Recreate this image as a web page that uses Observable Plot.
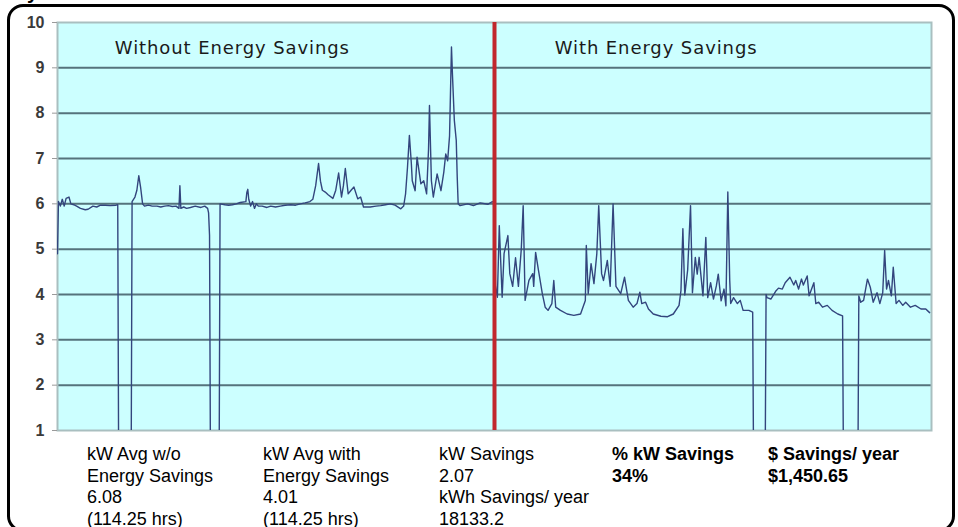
<!DOCTYPE html>
<html>
<head>
<meta charset="utf-8">
<script src="https://cdn.jsdelivr.net/npm/d3@7"></script>
<script src="https://cdn.jsdelivr.net/npm/@observablehq/plot@0.6"></script>
<style>
  html, body { margin: 0; padding: 0; background: #fff; overflow: hidden; width: 958px; height: 527px; }
  #border { position: absolute; left: 7px; top: 4px; width: 941.5px; height: 521.5px; border: 3px solid #000; border-radius: 16px; }
  #chart { position: absolute; left: 0; top: 0; }
  #stats { position: absolute; left: 0; top: 444px; font-family: "Liberation Sans", Arial, sans-serif; font-size: 18px; line-height: 21.5px; color: #000; }
  .col { position: absolute; top: 0; white-space: nowrap; }
  .bold { font-weight: bold; }
  #cut { position: absolute; left: 27px; top: -19px; font: bold 20px "Liberation Sans", Arial, sans-serif; }
</style>
</head>
<body>
<div id="cut">y</div>
<div id="border"></div>
<div id="chart"></div>
<div id="stats"></div>
<script>
// 15-minute readings: 0..456 without savings (114.25 hrs), 457..913 with savings
const withoutSavings = [
  [0,4.9],[1,6.05],[3,5.95],[5,6.1],[7,5.95],[9,6.12],[12,6.15],[14,6.0],[17,5.98],[20,5.95],
  [24,5.9],[29,5.87],[32,5.88],[37,5.95],[41,5.93],[45,5.97],[50,5.97],[55,5.96],[61,5.97],[63,5.98],
  [64,0],[77,0],[78,6.05],[81,6.15],[83,6.3],[85,6.62],[87,6.35],[89,6.0],[91,5.95],[95,5.97],
  [99,5.95],[104,5.95],[108,5.93],[112,5.95],[116,5.96],[120,5.94],[124,5.95],[127,5.9],[128,6.4],[129,5.9],
  [132,5.93],[135,5.9],[139,5.92],[144,5.95],[150,5.92],[154,5.95],[157,5.9],[158,5.8],[159,5.3],[160,0],
  [169,0],[170,6.0],[175,5.98],[179,5.97],[183,5.98],[187,6.0],[191,6.03],[197,6.05],[198,6.25],[199,6.32],
  [200,6.1],[202,5.95],[204,6.05],[206,5.9],[208,6.0],[210,5.95],[214,5.95],[219,5.92],[223,5.95],[228,5.93],
  [233,5.95],[238,5.97],[244,5.98],[249,5.97],[254,6.0],[259,6.02],[264,6.05],[267,6.1],[270,6.4],[273,6.89],
  [275,6.5],[277,6.3],[280,6.26],[283,6.2],[288,6.12],[291,6.3],[294,6.68],[297,6.15],[299,6.4],[301,6.78],
  [304,6.22],[307,6.3],[310,6.37],[314,6.11],[317,6.15],[320,5.93],[327,5.93],[333,5.95],[338,5.96],[343,5.98],
  [348,6.0],[353,5.97],[359,5.89],[362,5.95],[364,6.22],[366,6.8],[368,7.51],[370,6.9],[371,6.51],[374,6.29],
  [376,7.03],[380,6.44],[383,6.51],[386,6.22],[388,7.2],[389,8.17],[391,6.51],[393,6.15],[397,6.66],[401,6.29],
  [404,6.7],[406,7.1],[408,6.95],[410,7.5],[412,9.46],[413,8.87],[415,7.84],[417,7.4],[418,6.6],[419,6.0],
  [421,5.96],[429,6.0],[435,5.96],[442,6.02],[450,5.99],[454,6.04],[456,6.05]
];
const withSavings = [
  [457,5.0],[458,4.2],[460,3.94],[462,5.52],[465,3.94],[467,4.9],[471,5.3],[473,4.46],[476,4.18],[479,4.81],
  [482,4.18],[485,5.0],[487,5.96],[489,3.87],[493,4.31],[497,4.46],[498,4.18],[500,4.93],[503,4.53],[507,4.02],
  [510,3.72],[513,3.65],[517,3.8],[519,4.31],[521,3.72],[526,3.65],[533,3.57],[540,3.54],[547,3.57],[552,3.87],
  [553,5.08],[555,4.02],[558,4.68],[561,4.24],[564,4.9],[566,5.96],[569,4.46],[571,4.31],[575,4.75],[578,4.18],
  [581,6.0],[584,4.18],[589,4.02],[593,4.38],[597,3.87],[602,3.72],[606,3.8],[609,4.05],[611,3.8],[615,3.83],
  [618,3.68],[623,3.57],[631,3.52],[638,3.51],[644,3.57],[650,3.76],[652,4.09],[654,5.45],[656,3.99],[659,4.54],
  [662,5.96],[664,4.04],[667,4.82],[669,4.45],[671,4.82],[675,3.97],[678,5.26],[680,3.93],[683,4.26],[686,3.9],
  [689,4.19],[691,4.45],[694,3.86],[697,4.12],[699,3.75],[701,6.26],[703,4.31],[704,3.8],[707,3.93],[711,3.8],
  [714,3.87],[717,3.65],[723,3.65],[727,3.61],[728,0],[740,0],[741,4.0],[742,3.93],[746,3.9],[751,4.07],
  [754,4.14],[758,4.12],[761,4.26],[766,4.38],[770,4.21],[772,4.31],[775,4.12],[778,4.34],[780,4.21],[784,4.41],
  [786,3.97],[791,4.26],[793,3.8],[796,3.83],[800,3.72],[805,3.76],[810,3.65],[816,3.57],[821,3.53],[822,0],
  [837,0],[838,3.97],[840,3.83],[843,3.87],[847,4.34],[850,4.16],[853,3.83],[857,4.04],[860,3.8],[863,4.04],
  [865,4.97],[867,4.12],[869,4.31],[872,3.97],[874,4.6],[877,3.8],[880,3.87],[884,3.76],[887,3.83],[892,3.72],
  [897,3.76],[903,3.68],[908,3.68],[912,3.6]
];
const yTicks = [1, 2, 3, 4, 5, 6, 7, 8, 9, 10];
const gridValues = [2, 3, 4, 5, 6, 7, 8, 9];
const dividerReading = [457];
const zoneNames = ["Without Energy Savings", "With Energy Savings"];
const zoneStarts = [60, 520];

const statCol1 = ["kW Avg w/o", "Energy Savings", "6.08", "(114.25 hrs)"];
const statCol2 = ["kW Avg with", "Energy Savings", "4.01", "(114.25 hrs)"];
const statCol3 = ["kW Savings", "2.07", "kWh Savings/ year", "18133.2"];
const statCol4 = ["% kW Savings", "34%"];
const statCol5 = ["$ Savings/ year", "$1,450.65"];

const series = withoutSavings.concat(withSavings).map(([r, kw]) => ({r, kw}));
const zones = zoneNames.map((label, i) => ({label, start: zoneStarts[i]}));

const chart = Plot.plot({
  width: 958,
  height: 440,
  marginTop: 22,
  marginBottom: 10,
  marginLeft: 57,
  marginRight: 27,
  style: {fontFamily: "'Liberation Sans', Arial, sans-serif", background: "transparent", overflow: "visible"},
  x: {domain: [0, 914], axis: null},
  y: {domain: [1, 10]},
  marks: [
    Plot.frame({fill: "#ccffff", stroke: null}),
    Plot.ruleY(gridValues, {stroke: "#55737c", strokeWidth: 2}),
    Plot.frame({stroke: "#a9bfc0", strokeWidth: 2}),
    Plot.axisY(yTicks, {tickSize: 5, tickPadding: 8, fontSize: 16, fontWeight: "bold", fill: "#3a3a3a", stroke: "#9a9a9a", label: null}),
    Plot.text(zones, {x: "start", text: "label", frameAnchor: "top", lineAnchor: "top", dy: 19, textAnchor: "start",
      fontSize: 18, fontFamily: "'DejaVu Sans', Verdana, sans-serif", fill: "#1a1a1a"}),
    Plot.line(series, {x: "r", y: "kw", stroke: "#33457d", strokeWidth: 1.4, clip: true}),
    Plot.ruleX(dividerReading, {stroke: "#c1272d", strokeWidth: 4})
  ]
});
d3.select(chart).selectAll('g[aria-label="text"] text').style("letter-spacing", "0.9px");
document.getElementById("chart").appendChild(chart);

const colLeft = [87, 263, 439, 612, 768];
const cols = [statCol1, statCol2, statCol3, statCol4, statCol5];
const stats = d3.select("#stats");
cols.forEach((lines, i) => {
  const div = stats.append("div").attr("class", "col" + (i >= 3 ? " bold" : "")).style("left", colLeft[i] + "px");
  lines.forEach(t => div.append("div").text(t));
});
</script>
</body>
</html>
